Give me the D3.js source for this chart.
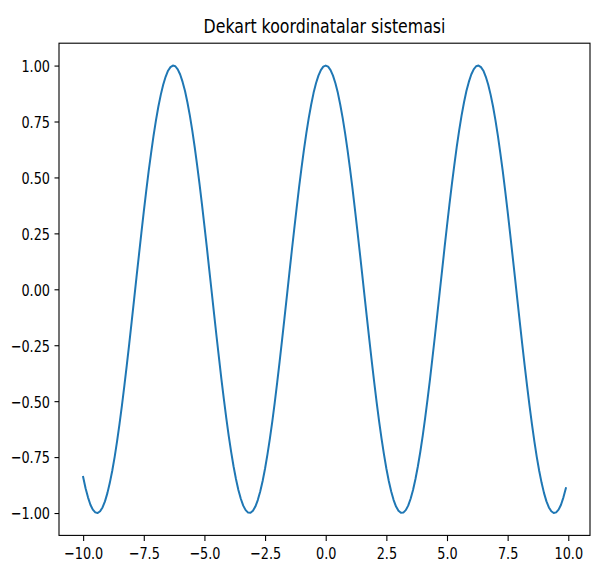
<!DOCTYPE html>
<html>
<head>
<meta charset="utf-8">
<script src="https://cdn.jsdelivr.net/npm/d3@7"></script>
<style>
  html, body { margin: 0; padding: 0; background: #fff; }
  svg { display: block; }
  text { font-family: "DejaVu Sans", sans-serif; fill: #000; }
</style>
</head>
<body>
<svg id="chart" width="591" height="562"></svg>
<script>
// ---- Data ----
const title = "Dekart koordinatalar sistemasi";
const xValues = [
  -10.0,-9.9,-9.8,-9.7,-9.6,-9.5,-9.4,-9.3,-9.2,-9.1,-9.0,-8.9,-8.8,-8.7,-8.6,-8.5,-8.4,-8.3,-8.2,-8.1,
  -8.0,-7.9,-7.8,-7.7,-7.6,-7.5,-7.4,-7.3,-7.2,-7.1,-7.0,-6.9,-6.8,-6.7,-6.6,-6.5,-6.4,-6.3,-6.2,-6.1,
  -6.0,-5.9,-5.8,-5.7,-5.6,-5.5,-5.4,-5.3,-5.2,-5.1,-5.0,-4.9,-4.8,-4.7,-4.6,-4.5,-4.4,-4.3,-4.2,-4.1,
  -4.0,-3.9,-3.8,-3.7,-3.6,-3.5,-3.4,-3.3,-3.2,-3.1,-3.0,-2.9,-2.8,-2.7,-2.6,-2.5,-2.4,-2.3,-2.2,-2.1,
  -2.0,-1.9,-1.8,-1.7,-1.6,-1.5,-1.4,-1.3,-1.2,-1.1,-1.0,-0.9,-0.8,-0.7,-0.6,-0.5,-0.4,-0.3,-0.2,-0.1,
  0.0,0.1,0.2,0.3,0.4,0.5,0.6,0.7,0.8,0.9,1.0,1.1,1.2,1.3,1.4,1.5,1.6,1.7,1.8,1.9,
  2.0,2.1,2.2,2.3,2.4,2.5,2.6,2.7,2.8,2.9,3.0,3.1,3.2,3.3,3.4,3.5,3.6,3.7,3.8,3.9,
  4.0,4.1,4.2,4.3,4.4,4.5,4.6,4.7,4.8,4.9,5.0,5.1,5.2,5.3,5.4,5.5,5.6,5.7,5.8,5.9,
  6.0,6.1,6.2,6.3,6.4,6.5,6.6,6.7,6.8,6.9,7.0,7.1,7.2,7.3,7.4,7.5,7.6,7.7,7.8,7.9,
  8.0,8.1,8.2,8.3,8.4,8.5,8.6,8.7,8.8,8.9,9.0,9.1,9.2,9.3,9.4,9.5,9.6,9.7,9.8,9.9
];
const yValues = [
  -0.839,-0.889,-0.930,-0.963,-0.985,-0.997,-1.000,-0.992,-0.975,-0.948,-0.911,-0.865,-0.811,-0.749,-0.679,-0.602,-0.519,-0.431,-0.339,-0.244,
  -0.146,-0.046,0.054,0.153,0.251,0.347,0.439,0.527,0.608,0.685,0.754,0.816,0.869,0.914,0.950,0.977,0.993,1.000,0.997,0.983,
  0.960,0.927,0.886,0.835,0.776,0.709,0.635,0.554,0.469,0.378,0.284,0.187,0.087,-0.012,-0.112,-0.211,-0.307,-0.401,-0.490,-0.575,
  -0.654,-0.726,-0.791,-0.848,-0.897,-0.936,-0.967,-0.987,-0.998,-0.999,-0.990,-0.971,-0.942,-0.904,-0.857,-0.801,-0.737,-0.666,-0.589,-0.505,
  -0.416,-0.323,-0.227,-0.129,-0.029,0.071,0.170,0.267,0.362,0.454,0.540,0.622,0.697,0.765,0.825,0.878,0.921,0.955,0.980,0.995,
  1.000,0.995,0.980,0.955,0.921,0.878,0.825,0.765,0.697,0.622,0.540,0.454,0.362,0.267,0.170,0.071,-0.029,-0.129,-0.227,-0.323,
  -0.416,-0.505,-0.589,-0.666,-0.737,-0.801,-0.857,-0.904,-0.942,-0.971,-0.990,-0.999,-0.998,-0.987,-0.967,-0.936,-0.897,-0.848,-0.791,-0.726,
  -0.654,-0.575,-0.490,-0.401,-0.307,-0.211,-0.112,-0.012,0.087,0.187,0.284,0.378,0.469,0.554,0.635,0.709,0.776,0.835,0.886,0.927,
  0.960,0.983,0.997,1.000,0.993,0.977,0.950,0.914,0.869,0.816,0.754,0.685,0.608,0.527,0.439,0.347,0.251,0.153,0.054,-0.046,
  -0.146,-0.244,-0.339,-0.431,-0.519,-0.602,-0.679,-0.749,-0.811,-0.865,-0.911,-0.948,-0.975,-0.992,-1.000,-0.997,-0.985,-0.963,-0.930,-0.889
];
const xTicks = [-10.0, -7.5, -5.0, -2.5, 0.0, 2.5, 5.0, 7.5, 10.0];
const yTicks = [-1.00, -0.75, -0.50, -0.25, 0.00, 0.25, 0.50, 0.75, 1.00];
const xDomain = [-10.995, 10.895];
const yDomain = [-1.1, 1.1];

// ---- Layout ----
const SX = 0.923, SY = 1.17;   // the picture is stretched non-uniformly
const plotLeft = 59, plotRight = 590, plotTop = 43.2, plotBottom = 535.4;
const svg = d3.select("#chart");

const x = d3.scaleLinear().domain(xDomain).range([plotLeft, plotRight]);
const y = d3.scaleLinear().domain(yDomain).range([plotBottom, plotTop]);

const fmtX = d3.format(".1f");
const fmtY = d3.format(".2f");
const minus = s => s.replace("-", "\u2212");

// x axis
const gx = svg.append("g").attr("transform", `translate(0,${plotBottom})`)
  .call(d3.axisBottom(x).tickValues(xTicks).tickSize(5.7).tickPadding(0)
    .tickFormat(d => minus(fmtX(d))));
gx.select(".domain").remove();
gx.selectAll(".tick line").attr("stroke", "#000").attr("stroke-width", 1.1);
gx.selectAll(".tick text")
  .attr("y", null).attr("dy", null)
  .attr("font-size", 13.9)
  .attr("text-anchor", "middle")
  .attr("transform", `translate(0,${5.7 + 5.7 + 11.9}) scale(${SX},${SY})`);

// y axis
const gy = svg.append("g").attr("transform", `translate(${plotLeft},0)`)
  .call(d3.axisLeft(y).tickValues(yTicks).tickSize(4.5).tickPadding(0)
    .tickFormat(d => minus(fmtY(d))));
gy.select(".domain").remove();
gy.selectAll(".tick line").attr("stroke", "#000").attr("stroke-width", 1.1);
gy.selectAll(".tick text")
  .attr("x", null).attr("dy", null)
  .attr("font-size", 13.9)
  .attr("text-anchor", "end")
  .attr("transform", `translate(${-4.5 - 4.5},${5.9}) scale(${SX},${SY})`);

// line
const pts = xValues.map((v, i) => [v, yValues[i]]);
svg.append("path")
  .datum(pts)
  .attr("fill", "none")
  .attr("stroke", "#1f77b4")
  .attr("stroke-width", 2.0)
  .attr("stroke-linejoin", "round")
  .attr("stroke-linecap", "square")
  .attr("d", d3.line().x(d => x(d[0])).y(d => y(d[1])));

// spines
svg.append("rect")
  .attr("x", plotLeft).attr("y", plotTop)
  .attr("width", plotRight - plotLeft).attr("height", plotBottom - plotTop)
  .attr("fill", "none").attr("stroke", "#000").attr("stroke-width", 1.1);

// title
svg.append("text")
  .attr("text-anchor", "middle")
  .attr("font-size", 17.1)
  .attr("transform", `translate(${324.5},${plotTop - 8.3 * SY}) scale(${SX},${SY})`)
  .text(title);
</script>
</body>
</html>
